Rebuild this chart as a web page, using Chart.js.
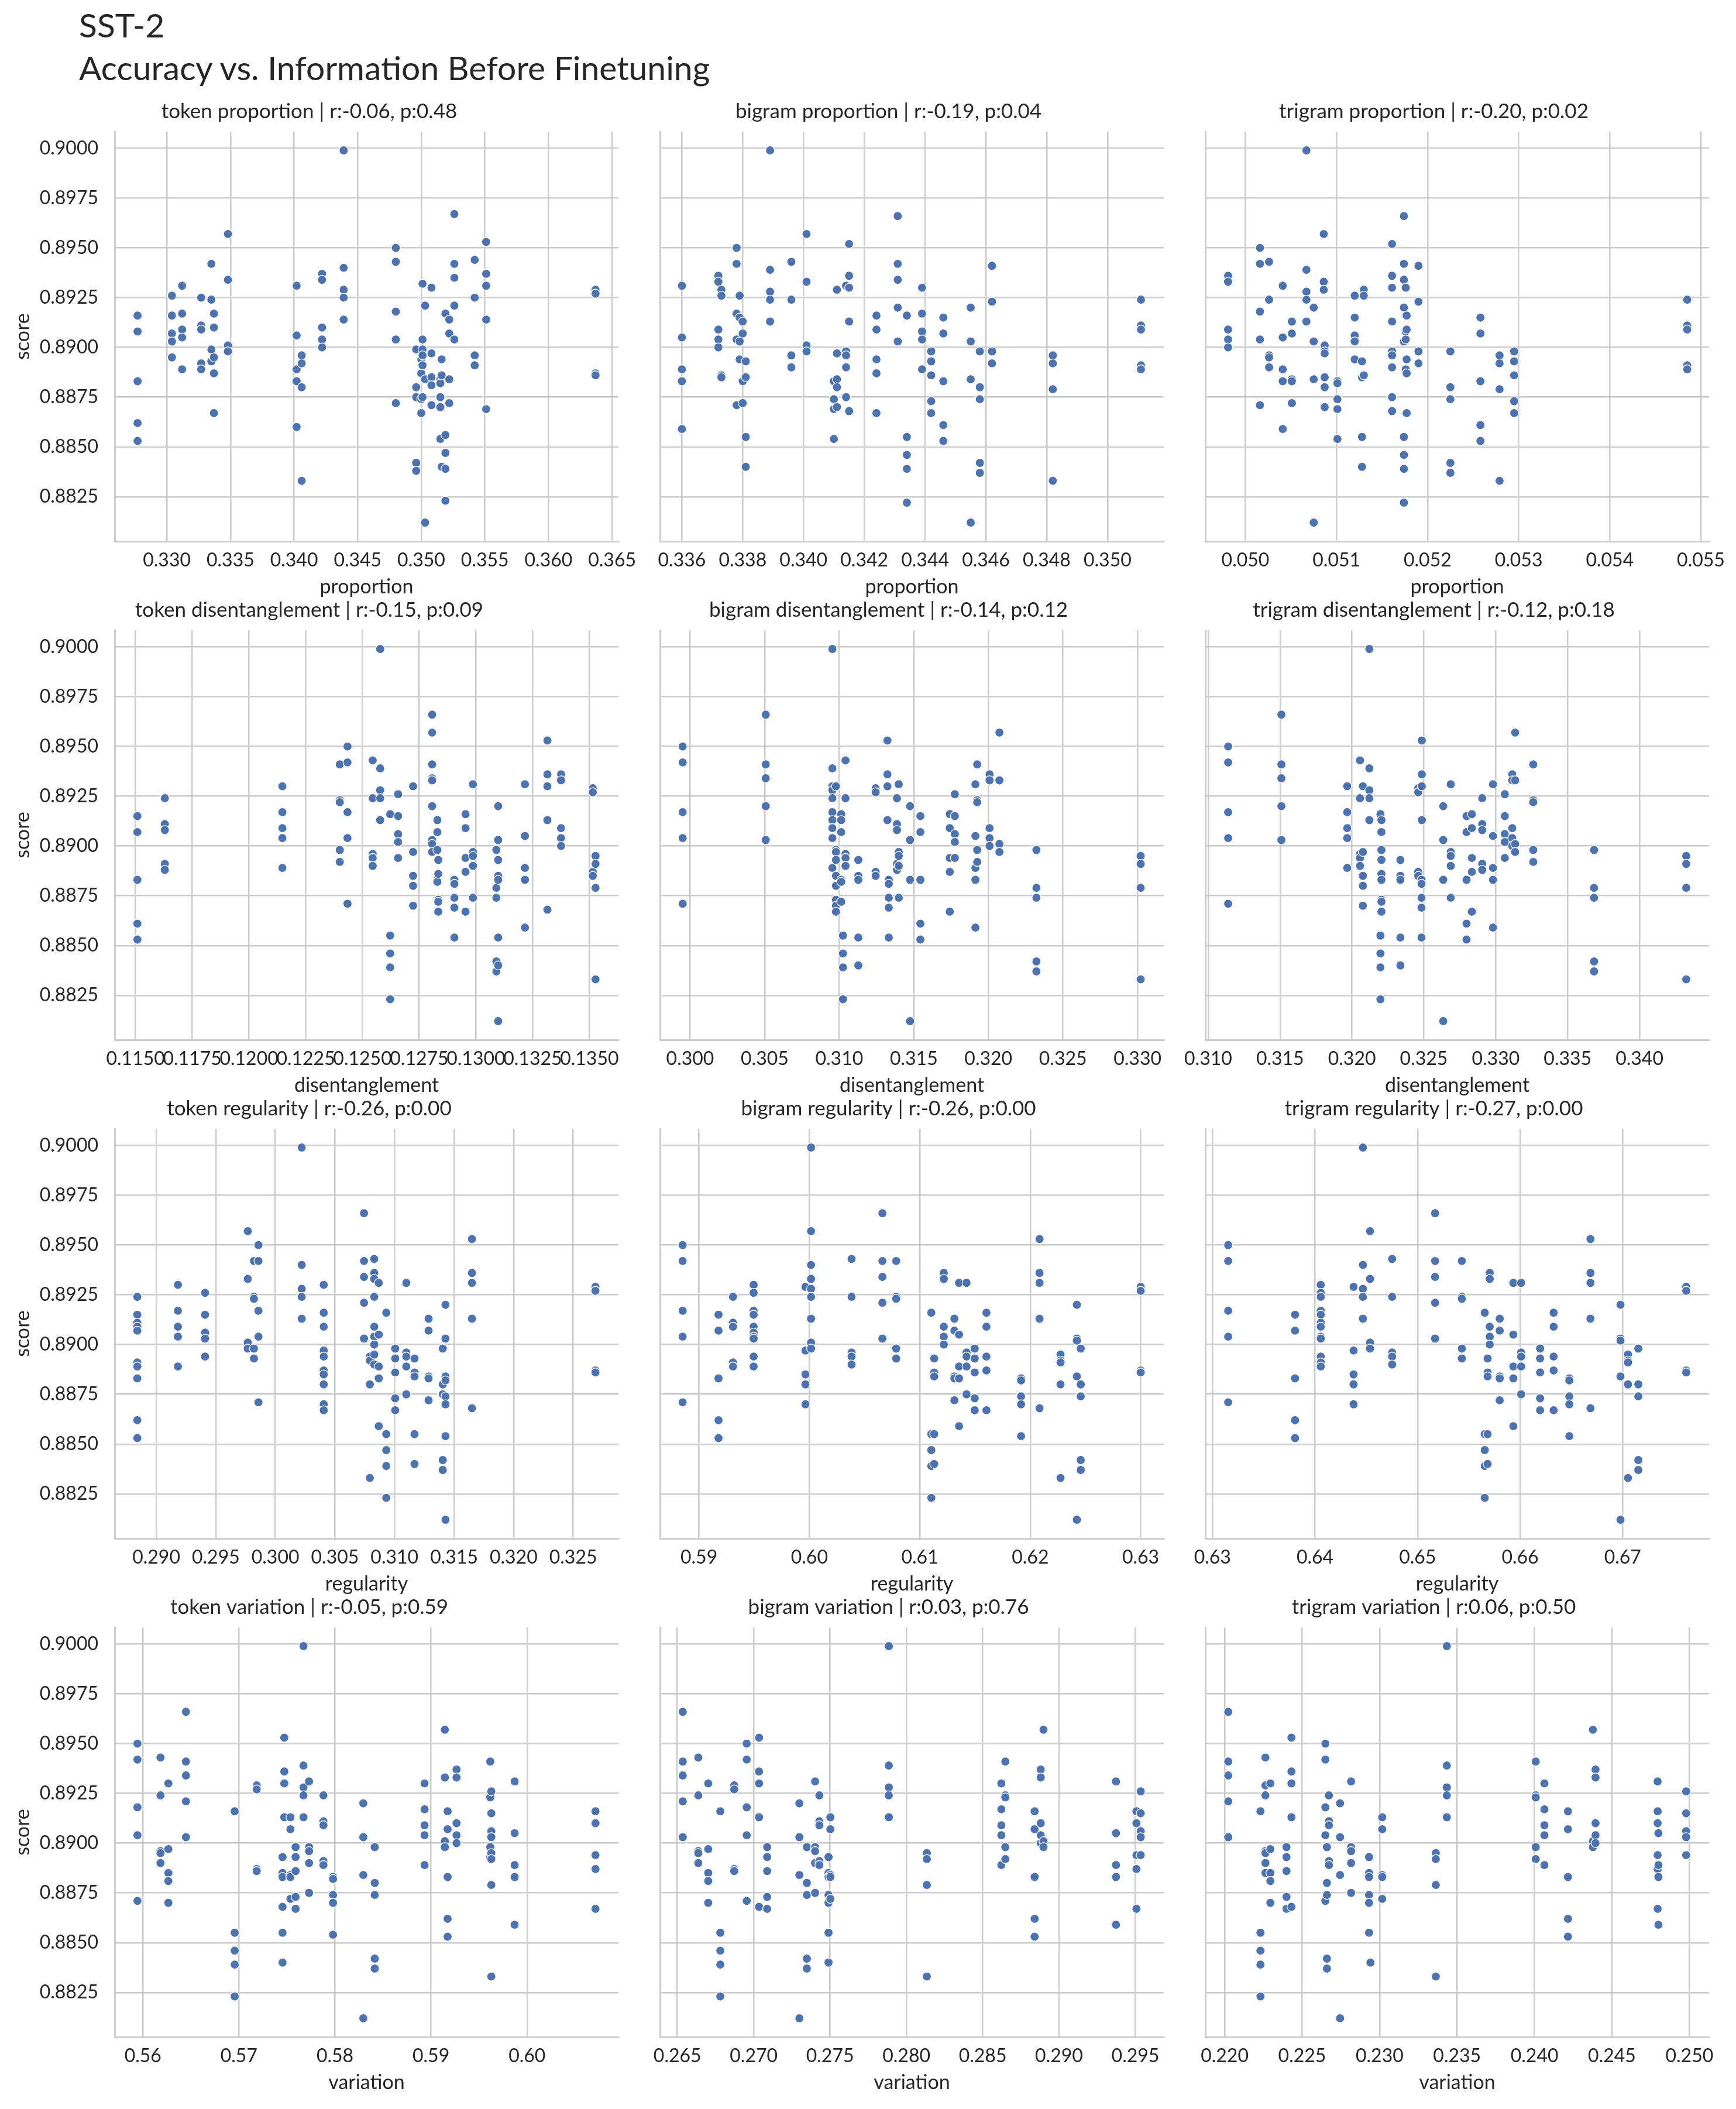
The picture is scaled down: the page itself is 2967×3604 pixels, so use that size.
<!DOCTYPE html>
<html>
<head>
<meta charset="utf-8">
<script src="https://cdn.jsdelivr.net/npm/chart.js@4.4.1/dist/chart.umd.min.js"></script>
<style>
  html, body { margin: 0; padding: 0; background: #fff; }
  body { width: 2967px; height: 3604px; position: relative; overflow: hidden;
         font-family: Lato, 'Noto Sans', sans-serif; color: #262626; }
  #suptitle { position: absolute; left: 135px; top: 6px; font-size: 57px; line-height: 73px; white-space: nowrap; }
  canvas { position: absolute; }
</style>
</head>
<body>
<div id="suptitle">SST-2<br>Accuracy vs. Information Before Finetuning</div>
<script>
// each entry: [x value, [scores at that x]]
const tokenProportion = [
  [0.3277, [0.8916,0.8908,0.8883,0.8862,0.8853]],
  [0.3304, [0.8926,0.8916,0.8907,0.8903,0.8895]],
  [0.3312, [0.8931,0.8917,0.8909,0.8905,0.8889]],
  [0.3327, [0.8925,0.8911,0.8909,0.8892,0.8889]],
  [0.3335, [0.8942,0.8924,0.8899,0.8893]],
  [0.3337, [0.8917,0.8910,0.8895,0.8887,0.8867]],
  [0.3348, [0.8957,0.8934,0.8901,0.8898]],
  [0.3402, [0.8931,0.8906,0.8889,0.8883,0.8860]],
  [0.3406, [0.8896,0.8892,0.8880,0.8833]],
  [0.3422, [0.8937,0.8934,0.8910,0.8904,0.8900]],
  [0.3439, [0.8999,0.8940,0.8929,0.8925,0.8914]],
  [0.3480, [0.8950,0.8943,0.8918,0.8904,0.8872]],
  [0.3496, [0.8899,0.8880,0.8875,0.8842,0.8838]],
  [0.3500, [0.8894,0.8887,0.8874,0.8867]],
  [0.3501, [0.8932,0.8904,0.8899,0.8896,0.8891,0.8875]],
  [0.3503, [0.8921,0.8884,0.8812]],
  [0.3508, [0.8930,0.8897,0.8885,0.8881,0.8871]],
  [0.3515, [0.8884,0.8882,0.8875,0.8870,0.8854]],
  [0.3516, [0.8894,0.8886,0.8840]],
  [0.3519, [0.8917,0.8856,0.8847,0.8839,0.8823]],
  [0.3522, [0.8914,0.8907,0.8884,0.8872]],
  [0.3526, [0.8967,0.8942,0.8935,0.8921,0.8904]],
  [0.3542, [0.8944,0.8925,0.8896,0.8891]],
  [0.3551, [0.8953,0.8937,0.8931,0.8914,0.8869]],
  [0.3637, [0.8929,0.8927,0.8887,0.8886]]
];
const bigramProportion = [
  [0.3360, [0.8931,0.8905,0.8889,0.8883,0.8859]],
  [0.3372, [0.8936,0.8933,0.8909,0.8904,0.8900]],
  [0.3373, [0.8929,0.8926,0.8886,0.8885]],
  [0.3378, [0.8950,0.8942,0.8917,0.8904,0.8871]],
  [0.3379, [0.8926,0.8915,0.8903,0.8894]],
  [0.3380, [0.8913,0.8907,0.8883,0.8872]],
  [0.3381, [0.8893,0.8885,0.8855,0.8840]],
  [0.3389, [0.8999,0.8939,0.8928,0.8924,0.8913]],
  [0.3396, [0.8943,0.8924,0.8896,0.8890]],
  [0.3401, [0.8957,0.8933,0.8901,0.8898]],
  [0.3410, [0.8883,0.8874,0.8869,0.8854]],
  [0.3411, [0.8929,0.8897,0.8884,0.8880,0.8870]],
  [0.3414, [0.8931,0.8898,0.8896,0.8890,0.8875]],
  [0.3415, [0.8952,0.8936,0.8930,0.8913,0.8868]],
  [0.3424, [0.8916,0.8909,0.8894,0.8887,0.8867]],
  [0.3431, [0.8966,0.8942,0.8934,0.8920,0.8903]],
  [0.3434, [0.8916,0.8855,0.8846,0.8839,0.8822]],
  [0.3439, [0.8930,0.8917,0.8908,0.8904,0.8889]],
  [0.3442, [0.8898,0.8893,0.8886,0.8873,0.8867]],
  [0.3446, [0.8915,0.8907,0.8883,0.8861,0.8853]],
  [0.3455, [0.8920,0.8903,0.8884,0.8812]],
  [0.3458, [0.8898,0.8880,0.8874,0.8842,0.8837]],
  [0.3462, [0.8941,0.8923,0.8898,0.8892]],
  [0.3482, [0.8896,0.8892,0.8879,0.8833]],
  [0.3511, [0.8924,0.8911,0.8909,0.8891,0.8889]]
];
const trigramProportion = [
  [0.04981, [0.8936,0.8933,0.8909,0.8904,0.8900]],
  [0.05016, [0.8950,0.8942,0.8918,0.8904,0.8871]],
  [0.05026, [0.8943,0.8924,0.8896,0.8895,0.8890]],
  [0.05041, [0.8931,0.8905,0.8889,0.8883,0.8859]],
  [0.05051, [0.8913,0.8907,0.8884,0.8883,0.8872]],
  [0.05067, [0.8999,0.8939,0.8928,0.8924,0.8913]],
  [0.05075, [0.8920,0.8903,0.8884,0.8812]],
  [0.05086, [0.8957,0.8933,0.8929]],
  [0.05087, [0.8901,0.8898,0.8897,0.8885,0.8880,0.8870]],
  [0.05101, [0.8883,0.8882,0.8874,0.8869,0.8854]],
  [0.05120, [0.8926,0.8915,0.8906,0.8903,0.8894]],
  [0.05128, [0.8893,0.8885,0.8855,0.8840]],
  [0.05130, [0.8929,0.8926,0.8886]],
  [0.05161, [0.8952,0.8936,0.8930,0.8913,0.8898,0.8896,0.8890,0.8875,0.8868]],
  [0.05174, [0.8966,0.8942,0.8934,0.8920,0.8903,0.8855,0.8846,0.8839,0.8822]],
  [0.05176, [0.8930,0.8916,0.8908,0.8904,0.8889]],
  [0.05177, [0.8916,0.8909,0.8894,0.8887,0.8867]],
  [0.05190, [0.8941,0.8923,0.8898,0.8892]],
  [0.05225, [0.8898,0.8880,0.8874,0.8842,0.8837]],
  [0.05258, [0.8915,0.8907,0.8883,0.8861,0.8853]],
  [0.05279, [0.8896,0.8892,0.8879,0.8833]],
  [0.05295, [0.8898,0.8893,0.8886,0.8873,0.8867]],
  [0.05485, [0.8924,0.8911,0.8909,0.8891,0.8889]]
];
const tokenDisentanglement = [
  [0.11508, [0.8915,0.8907,0.8883,0.8861,0.8853]],
  [0.11629, [0.8924,0.8911,0.8908,0.8891,0.8888]],
  [0.12147, [0.8930,0.8917,0.8909,0.8904,0.8889]],
  [0.12400, [0.8941,0.8923,0.8922,0.8898,0.8892]],
  [0.12434, [0.8950,0.8942,0.8917,0.8904,0.8871]],
  [0.12545, [0.8943,0.8924,0.8896,0.8894,0.8890]],
  [0.12578, [0.8999,0.8939,0.8928,0.8924,0.8913]],
  [0.12622, [0.8916,0.8855,0.8846,0.8839,0.8823]],
  [0.12657, [0.8926,0.8915,0.8906,0.8902,0.8894]],
  [0.12723, [0.8930,0.8897,0.8885,0.8880,0.8870]],
  [0.12807, [0.8966,0.8957,0.8941,0.8934,0.8933,0.8920,0.8903,0.8901,0.8897]],
  [0.12830, [0.8913,0.8907,0.8898,0.8883,0.8882]],
  [0.12834, [0.8893,0.8886,0.8873,0.8872,0.8867]],
  [0.12905, [0.8883,0.8881,0.8874,0.8869,0.8854]],
  [0.12954, [0.8916,0.8909,0.8894,0.8887,0.8867]],
  [0.12987, [0.8931,0.8897,0.8895,0.8890,0.8874]],
  [0.13090, [0.8898,0.8879,0.8874,0.8842,0.8837]],
  [0.13098, [0.8920,0.8903,0.8893,0.8885,0.8883,0.8854,0.8840,0.8812]],
  [0.13216, [0.8931,0.8905,0.8889,0.8883,0.8859]],
  [0.13315, [0.8953,0.8936,0.8930,0.8913,0.8868]],
  [0.13375, [0.8936,0.8933,0.8909,0.8904,0.8900]],
  [0.13515, [0.8929,0.8927,0.8887,0.8885]],
  [0.13527, [0.8895,0.8891,0.8879,0.8833]]
];
const bigramDisentanglement = [
  [0.29950, [0.8950,0.8942,0.8917,0.8904,0.8871]],
  [0.30507, [0.8966,0.8941,0.8934,0.8920,0.8903]],
  [0.30954, [0.8999,0.8939,0.8930,0.8928,0.8924,0.8917,0.8913,0.8909,0.8904,0.8889]],
  [0.30978, [0.8930,0.8898,0.8897,0.8893,0.8885,0.8880,0.8873,0.8870,0.8867]],
  [0.31013, [0.8916,0.8913,0.8907,0.8883,0.8882,0.8872]],
  [0.31025, [0.8855,0.8846,0.8839,0.8823]],
  [0.31042, [0.8943,0.8924,0.8896,0.8894,0.8890]],
  [0.31128, [0.8893,0.8885,0.8883,0.8854,0.8840]],
  [0.31244, [0.8929,0.8927,0.8887,0.8885]],
  [0.31323, [0.8953,0.8936,0.8930,0.8913]],
  [0.31332, [0.8883,0.8881,0.8874,0.8869,0.8854]],
  [0.31387, [0.8924,0.8911,0.8908,0.8891,0.8888]],
  [0.31399, [0.8931,0.8897,0.8895,0.8890,0.8874]],
  [0.31475, [0.8920,0.8903,0.8883,0.8812]],
  [0.31544, [0.8915,0.8907,0.8883,0.8861,0.8853]],
  [0.31741, [0.8916,0.8909,0.8894,0.8887,0.8867]],
  [0.31775, [0.8926,0.8915,0.8906,0.8902,0.8894]],
  [0.31913, [0.8931,0.8905,0.8889,0.8883,0.8859]],
  [0.31925, [0.8941,0.8923,0.8922,0.8898,0.8892]],
  [0.32008, [0.8936,0.8933,0.8909,0.8904,0.8900]],
  [0.32074, [0.8957,0.8933,0.8901,0.8897]],
  [0.32322, [0.8898,0.8879,0.8874,0.8842,0.8837]],
  [0.33021, [0.8895,0.8891,0.8879,0.8833]]
];
const trigramDisentanglement = [
  [0.31139, [0.8950,0.8942,0.8917,0.8904,0.8871]],
  [0.31509, [0.8966,0.8941,0.8934,0.8920,0.8903]],
  [0.31967, [0.8930,0.8917,0.8909,0.8904,0.8889]],
  [0.32056, [0.8943,0.8924,0.8896,0.8894,0.8890]],
  [0.32076, [0.8930,0.8897,0.8885,0.8880,0.8870]],
  [0.32121, [0.8999,0.8939,0.8928,0.8924,0.8913]],
  [0.32198, [0.8916,0.8855,0.8846,0.8839,0.8823]],
  [0.32205, [0.8913,0.8907,0.8898,0.8893,0.8886,0.8883,0.8873,0.8872,0.8867]],
  [0.32337, [0.8893,0.8885,0.8883,0.8854,0.8840]],
  [0.32461, [0.8929,0.8927,0.8887,0.8885]],
  [0.32486, [0.8953,0.8936,0.8930,0.8913]],
  [0.32484, [0.8883,0.8881,0.8874,0.8869,0.8854]],
  [0.32635, [0.8920,0.8903,0.8883,0.8812]],
  [0.32687, [0.8931,0.8897,0.8895,0.8890,0.8874]],
  [0.32797, [0.8915,0.8907,0.8883,0.8861,0.8853]],
  [0.32834, [0.8916,0.8909,0.8894,0.8887,0.8867]],
  [0.32906, [0.8924,0.8911,0.8908,0.8891,0.8888]],
  [0.32981, [0.8931,0.8905,0.8889,0.8883,0.8859]],
  [0.33063, [0.8926,0.8915,0.8906,0.8902,0.8894]],
  [0.33115, [0.8936,0.8933,0.8909,0.8904,0.8900]],
  [0.33135, [0.8957,0.8933,0.8901,0.8897]],
  [0.33261, [0.8941,0.8923,0.8922,0.8898,0.8892]],
  [0.33684, [0.8898,0.8879,0.8874,0.8842,0.8837]],
  [0.34325, [0.8895,0.8891,0.8879,0.8833]]
];
const tokenRegularity = [
  [0.28841, [0.8924,0.8915,0.8911,0.8909,0.8907,0.8891,0.8889,0.8883,0.8862,0.8853]],
  [0.29182, [0.8930,0.8917,0.8909,0.8904,0.8889]],
  [0.29410, [0.8926,0.8915,0.8906,0.8903,0.8894]],
  [0.29768, [0.8957,0.8933,0.8901,0.8898]],
  [0.29820, [0.8942,0.8924,0.8923,0.8898,0.8893]],
  [0.29858, [0.8950,0.8942,0.8917,0.8904,0.8871]],
  [0.30221, [0.8999,0.8940,0.8928,0.8924,0.8913]],
  [0.30406, [0.8930,0.8916,0.8909,0.8897,0.8894,0.8887,0.8885,0.8880,0.8870,0.8867]],
  [0.30744, [0.8966,0.8942,0.8934,0.8921,0.8903]],
  [0.30793, [0.8894,0.8892,0.8880,0.8833]],
  [0.30830, [0.8943,0.8936,0.8933,0.8924,0.8909,0.8904,0.8900,0.8895,0.8890]],
  [0.30868, [0.8931,0.8905,0.8889,0.8883,0.8859]],
  [0.30931, [0.8916,0.8855,0.8847,0.8839,0.8823]],
  [0.31006, [0.8898,0.8893,0.8886,0.8873,0.8867]],
  [0.31099, [0.8931,0.8896,0.8894,0.8889,0.8875]],
  [0.31168, [0.8893,0.8886,0.8884,0.8855,0.8840]],
  [0.31286, [0.8913,0.8907,0.8884,0.8883,0.8872]],
  [0.31405, [0.8898,0.8880,0.8875,0.8842,0.8837]],
  [0.31428, [0.8920,0.8903,0.8884,0.8882,0.8874,0.8870,0.8854,0.8812]],
  [0.31650, [0.8953,0.8936,0.8931,0.8913,0.8868]],
  [0.32687, [0.8929,0.8927,0.8887,0.8886]]
];
const bigramRegularity = [
  [0.58852, [0.8950,0.8942,0.8917,0.8904,0.8871]],
  [0.59177, [0.8915,0.8907,0.8883,0.8862,0.8853]],
  [0.59308, [0.8924,0.8911,0.8909,0.8891,0.8889]],
  [0.59495, [0.8930,0.8926,0.8917,0.8915,0.8909,0.8906,0.8904,0.8903,0.8894,0.8889]],
  [0.59964, [0.8929,0.8897,0.8885,0.8880,0.8870]],
  [0.60015, [0.8999,0.8957,0.8940,0.8933,0.8928,0.8924,0.8913,0.8901,0.8898]],
  [0.60382, [0.8943,0.8924,0.8896,0.8894,0.8890]],
  [0.60661, [0.8966,0.8942,0.8934,0.8921,0.8903]],
  [0.60786, [0.8942,0.8924,0.8923,0.8898,0.8893]],
  [0.61104, [0.8916,0.8855,0.8847,0.8839,0.8823]],
  [0.61130, [0.8893,0.8886,0.8884,0.8855,0.8840]],
  [0.61217, [0.8936,0.8933,0.8909,0.8904,0.8900]],
  [0.61313, [0.8913,0.8907,0.8884,0.8883,0.8872]],
  [0.61355, [0.8931,0.8905,0.8889,0.8883,0.8859]],
  [0.61423, [0.8931,0.8896,0.8894,0.8889,0.8875]],
  [0.61497, [0.8898,0.8893,0.8886,0.8873,0.8867]],
  [0.61603, [0.8916,0.8909,0.8894,0.8887,0.8867]],
  [0.61917, [0.8883,0.8882,0.8874,0.8870,0.8854]],
  [0.62084, [0.8953,0.8936,0.8931,0.8913,0.8868]],
  [0.62274, [0.8895,0.8892,0.8891,0.8880,0.8833]],
  [0.62422, [0.8920,0.8903,0.8902,0.8884,0.8812]],
  [0.62457, [0.8898,0.8880,0.8874,0.8842,0.8837]],
  [0.63000, [0.8929,0.8927,0.8887,0.8886]]
];
const trigramRegularity = [
  [0.63153, [0.8950,0.8942,0.8917,0.8904,0.8871]],
  [0.63805, [0.8915,0.8907,0.8883,0.8862,0.8853]],
  [0.64056, [0.8930,0.8926,0.8924,0.8917,0.8915,0.8911,0.8909,0.8904,0.8903,0.8894,0.8891,0.8889]],
  [0.64376, [0.8929,0.8897,0.8885,0.8880,0.8870]],
  [0.64467, [0.8999,0.8940,0.8928,0.8924,0.8913]],
  [0.64536, [0.8957,0.8933,0.8901,0.8898]],
  [0.64752, [0.8943,0.8924,0.8896,0.8894,0.8890]],
  [0.65171, [0.8966,0.8942,0.8934,0.8921,0.8903]],
  [0.65432, [0.8942,0.8924,0.8923,0.8898,0.8893]],
  [0.65655, [0.8916,0.8855,0.8847,0.8839,0.8823]],
  [0.65683, [0.8893,0.8886,0.8884,0.8855,0.8840]],
  [0.65704, [0.8936,0.8933,0.8909,0.8904,0.8900]],
  [0.65801, [0.8913,0.8907,0.8884,0.8883,0.8872]],
  [0.65934, [0.8931,0.8905,0.8889,0.8883,0.8859]],
  [0.66010, [0.8931,0.8896,0.8894,0.8889,0.8875]],
  [0.66195, [0.8898,0.8893,0.8886,0.8873,0.8867]],
  [0.66327, [0.8916,0.8909,0.8894,0.8887,0.8867]],
  [0.66480, [0.8883,0.8882,0.8874,0.8870,0.8854]],
  [0.66686, [0.8953,0.8936,0.8931,0.8913,0.8868]],
  [0.66979, [0.8920,0.8903,0.8902,0.8884,0.8812]],
  [0.67052, [0.8895,0.8892,0.8891,0.8880,0.8833]],
  [0.67153, [0.8898,0.8880,0.8874,0.8842,0.8837]],
  [0.67620, [0.8929,0.8927,0.8887,0.8886]]
];
const tokenVariation = [
  [0.55943, [0.8950,0.8942,0.8918,0.8904,0.8871]],
  [0.56183, [0.8943,0.8924,0.8896,0.8895,0.8890]],
  [0.56265, [0.8930,0.8897,0.8885,0.8881,0.8870]],
  [0.56448, [0.8966,0.8941,0.8934,0.8921,0.8903]],
  [0.56956, [0.8916,0.8855,0.8846,0.8839,0.8823]],
  [0.57185, [0.8929,0.8927,0.8887,0.8886]],
  [0.57454, [0.8893,0.8885,0.8883,0.8868,0.8855,0.8840]],
  [0.57472, [0.8953,0.8936,0.8930,0.8913]],
  [0.57536, [0.8913,0.8907,0.8884,0.8883,0.8872]],
  [0.57590, [0.8898,0.8893,0.8886,0.8873,0.8867]],
  [0.57672, [0.8999,0.8939,0.8928,0.8924,0.8913]],
  [0.57730, [0.8931,0.8898,0.8896,0.8890,0.8875]],
  [0.57880, [0.8924,0.8911,0.8909,0.8891,0.8889]],
  [0.57980, [0.8883,0.8882,0.8874,0.8870,0.8854]],
  [0.58295, [0.8920,0.8903,0.8884,0.8812]],
  [0.58414, [0.8898,0.8880,0.8874,0.8842,0.8837]],
  [0.58933, [0.8930,0.8917,0.8909,0.8904,0.8889]],
  [0.59144, [0.8957,0.8933,0.8901,0.8898]],
  [0.59173, [0.8916,0.8907,0.8883,0.8862,0.8853]],
  [0.59266, [0.8937,0.8933,0.8910,0.8904,0.8900]],
  [0.59617, [0.8941,0.8924,0.8923,0.8898,0.8893]],
  [0.59628, [0.8926,0.8915,0.8906,0.8903,0.8895,0.8892,0.8879,0.8833]],
  [0.59871, [0.8931,0.8905,0.8889,0.8883,0.8859]],
  [0.60713, [0.8916,0.8910,0.8894,0.8887,0.8867]]
];
const bigramVariation = [
  [0.26535, [0.8966,0.8941,0.8934,0.8921,0.8903]],
  [0.26637, [0.8943,0.8924,0.8896,0.8895,0.8890]],
  [0.26702, [0.8930,0.8897,0.8885,0.8881,0.8870]],
  [0.26781, [0.8916,0.8855,0.8846,0.8839,0.8823]],
  [0.26872, [0.8929,0.8927,0.8887,0.8886]],
  [0.26954, [0.8950,0.8942,0.8918,0.8904,0.8871]],
  [0.27035, [0.8953,0.8936,0.8930,0.8913,0.8868]],
  [0.27088, [0.8898,0.8893,0.8886,0.8873,0.8867]],
  [0.27299, [0.8920,0.8903,0.8884,0.8812]],
  [0.27348, [0.8898,0.8880,0.8874,0.8842,0.8837]],
  [0.27402, [0.8931,0.8898,0.8896,0.8890,0.8875]],
  [0.27430, [0.8924,0.8911,0.8909,0.8891,0.8889]],
  [0.27490, [0.8893,0.8885,0.8883,0.8874,0.8870,0.8855,0.8840]],
  [0.27502, [0.8913,0.8907,0.8884,0.8883,0.8872]],
  [0.27885, [0.8999,0.8939,0.8928,0.8924,0.8913]],
  [0.28134, [0.8895,0.8892,0.8879,0.8833]],
  [0.28622, [0.8930,0.8917,0.8909,0.8904,0.8889]],
  [0.28648, [0.8941,0.8924,0.8923,0.8898,0.8892]],
  [0.28840, [0.8916,0.8907,0.8883,0.8862,0.8853]],
  [0.28880, [0.8937,0.8933,0.8910,0.8904,0.8900]],
  [0.28898, [0.8957,0.8901,0.8898]],
  [0.29373, [0.8931,0.8905,0.8889,0.8883,0.8859]],
  [0.29507, [0.8916,0.8910,0.8894,0.8887,0.8867]],
  [0.29535, [0.8926,0.8915,0.8906,0.8903,0.8894]]
];
const trigramVariation = [
  [0.22023, [0.8966,0.8941,0.8934,0.8921,0.8903]],
  [0.22231, [0.8916,0.8855,0.8846,0.8839,0.8823]],
  [0.22263, [0.8943,0.8929,0.8924,0.8896,0.8895,0.8890,0.8885]],
  [0.22295, [0.8930,0.8897,0.8885,0.8881,0.8870]],
  [0.22399, [0.8898,0.8893,0.8886,0.8873,0.8867]],
  [0.22431, [0.8953,0.8936,0.8930,0.8913,0.8868]],
  [0.22650, [0.8950,0.8942,0.8918,0.8904,0.8871]],
  [0.22660, [0.8898,0.8880,0.8874,0.8842,0.8837]],
  [0.22673, [0.8924,0.8911,0.8909,0.8891,0.8889]],
  [0.22745, [0.8920,0.8903,0.8884,0.8812]],
  [0.22816, [0.8931,0.8898,0.8896,0.8890,0.8875]],
  [0.22932, [0.8893,0.8885,0.8883,0.8874,0.8870,0.8855]],
  [0.22941, [0.8840]],
  [0.23017, [0.8913,0.8907,0.8884,0.8883,0.8872]],
  [0.23363, [0.8895,0.8892,0.8879,0.8833]],
  [0.23434, [0.8999,0.8939,0.8928,0.8924,0.8913]],
  [0.24008, [0.8941,0.8924,0.8923,0.8898,0.8892]],
  [0.24064, [0.8930,0.8917,0.8909,0.8904,0.8889]],
  [0.24216, [0.8916,0.8907,0.8883,0.8862,0.8853]],
  [0.24377, [0.8957,0.8901,0.8898]],
  [0.24394, [0.8937,0.8933,0.8910,0.8904,0.8900]],
  [0.24795, [0.8931,0.8916,0.8910,0.8894,0.8887,0.8867]],
  [0.24800, [0.8905,0.8889,0.8883,0.8859]],
  [0.24979, [0.8926,0.8915,0.8906,0.8903,0.8894]]
];

// tick labels
const scoreTicks = ['0.8825','0.8850','0.8875','0.8900','0.8925','0.8950','0.8975','0.9000'];
const tokenProportionTicks = ['0.330','0.335','0.340','0.345','0.350','0.355','0.360','0.365'];
const bigramProportionTicks = ['0.336','0.338','0.340','0.342','0.344','0.346','0.348','0.350'];
const trigramProportionTicks = ['0.050','0.051','0.052','0.053','0.054','0.055'];
const tokenDisentanglementTicks = ['0.1150','0.1175','0.1200','0.1225','0.1250','0.1275','0.1300','0.1325','0.1350'];
const bigramDisentanglementTicks = ['0.300','0.305','0.310','0.315','0.320','0.325','0.330'];
const trigramDisentanglementTicks = ['0.310','0.315','0.320','0.325','0.330','0.335','0.340'];
const tokenRegularityTicks = ['0.290','0.295','0.300','0.305','0.310','0.315','0.320','0.325'];
const bigramRegularityTicks = ['0.59','0.60','0.61','0.62','0.63'];
const trigramRegularityTicks = ['0.63','0.64','0.65','0.66','0.67'];
const tokenVariationTicks = ['0.56','0.57','0.58','0.59','0.60'];
const bigramVariationTicks = ['0.265','0.270','0.275','0.280','0.285','0.290','0.295'];
const trigramVariationTicks = ['0.220','0.225','0.230','0.235','0.240','0.245','0.250'];

// correlation stats shown in panel titles
const corrR = ['-0.06','-0.19','-0.20','-0.15','-0.14','-0.12','-0.26','-0.26','-0.27','-0.05','0.03','0.06'];
const corrP = ['0.48','0.04','0.02','0.09','0.12','0.18','0.00','0.00','0.00','0.59','0.76','0.50'];

const panels = [
  {name: 'token proportion', data: tokenProportion, ticks: tokenProportionTicks, xlabel: 'proportion', min: 0.3259, max: 0.3655},
  {name: 'bigram proportion', data: bigramProportion, ticks: bigramProportionTicks, xlabel: 'proportion', min: 0.33528, max: 0.35185},
  {name: 'trigram proportion', data: trigramProportion, ticks: trigramProportionTicks, xlabel: 'proportion', min: 0.04956, max: 0.05509},
  {name: 'token disentanglement', data: tokenDisentanglement, ticks: tokenDisentanglementTicks, xlabel: 'disentanglement', min: 0.11408, max: 0.13628},
  {name: 'bigram disentanglement', data: bigramDisentanglement, ticks: bigramDisentanglementTicks, xlabel: 'disentanglement', min: 0.29798, max: 0.33176},
  {name: 'trigram disentanglement', data: trigramDisentanglement, ticks: trigramDisentanglementTicks, xlabel: 'disentanglement', min: 0.30980, max: 0.34484},
  {name: 'token regularity', data: tokenRegularity, ticks: tokenRegularityTicks, xlabel: 'regularity', min: 0.28651, max: 0.32880},
  {name: 'bigram regularity', data: bigramRegularity, ticks: bigramRegularityTicks, xlabel: 'regularity', min: 0.58647, max: 0.63209},
  {name: 'trigram regularity', data: trigramRegularity, ticks: trigramRegularityTicks, xlabel: 'regularity', min: 0.62930, max: 0.67843},
  {name: 'token variation', data: tokenVariation, ticks: tokenVariationTicks, xlabel: 'variation', min: 0.55706, max: 0.60952},
  {name: 'bigram variation', data: bigramVariation, ticks: bigramVariationTicks, xlabel: 'variation', min: 0.26386, max: 0.29686},
  {name: 'trigram variation', data: trigramVariation, ticks: trigramVariationTicks, xlabel: 'variation', min: 0.21875, max: 0.25127}
];

const FONT = "Lato, 'Noto Sans', sans-serif";
const TEXT = '#262626';
const GRID = '#cccccc';
const colLeft = [196, 1128, 2060];
const rowTop = [225, 1077, 1929, 2781];
const plotW = 861, plotH = 700;
const titleH = 65;   // 10 + 35*1.2 + 13
const xH = 98;
const rightPad = 60;

Chart.defaults.font.family = FONT;
Chart.defaults.color = TEXT;

function draw() {
  panels.forEach((p, i) => {
    const r = Math.floor(i / 3), c = i % 3;
    const yW = c === 0 ? 196 : 80;
    const cv = document.createElement('canvas');
    cv.width = yW + plotW + rightPad;
    cv.height = titleH + plotH + xH;
    cv.style.left = (colLeft[c] - yW) + 'px';
    cv.style.top = (rowTop[r] - titleH) + 'px';
    document.body.appendChild(cv);

    const points = p.data.flatMap(([x, ys]) => ys.map(y => ({x: x, y: y})));
    const xVals = p.ticks.map(Number);
    const yVals = scoreTicks.map(Number);

    new Chart(cv, {
      type: 'scatter',
      data: {
        datasets: [{
          data: points,
          pointRadius: 7.6,
          pointHoverRadius: 7.6,
          backgroundColor: '#4c72b0',
          borderColor: '#ffffff',
          borderWidth: 1.3
        }]
      },
      options: {
        responsive: false,
        animation: false,
        devicePixelRatio: 1,
        events: [],
        layout: {padding: {left: 0, right: rightPad, top: 0, bottom: 0}},
        plugins: {
          legend: {display: false},
          tooltip: {enabled: false},
          title: {
            display: true,
            text: p.name + ' | r:' + corrR[i] + ', p:' + corrP[i],
            font: {size: 35, weight: 'normal'},
            color: TEXT,
            padding: {top: 10, bottom: 13}
          }
        },
        scales: {
          x: {
            type: 'linear',
            min: p.min,
            max: p.max,
            afterBuildTicks: s => { s.ticks = xVals.map(v => ({value: v})); },
            afterFit: s => { s.height = xH; },
            grid: {color: GRID, lineWidth: 2.5, drawTicks: false},
            border: {color: GRID, width: 3},
            ticks: {
              autoSkip: false, maxRotation: 0, minRotation: 0, padding: 13,
              color: TEXT, font: {size: 32},
              callback: (v, idx) => p.ticks[idx]
            },
            title: {display: true, text: p.xlabel, color: TEXT, font: {size: 34}, padding: 0}
          },
          y: {
            type: 'linear',
            min: 0.88026,
            max: 0.90084,
            afterBuildTicks: s => { s.ticks = yVals.map(v => ({value: v})); },
            afterFit: s => { s.width = yW; },
            grid: {color: GRID, lineWidth: 2.5, drawTicks: false},
            border: {color: GRID, width: 3},
            ticks: {
              display: c === 0, autoSkip: false, padding: 28,
              color: TEXT, font: {size: 32},
              callback: (v, idx) => scoreTicks[idx]
            },
            title: {display: c === 0, text: 'score', color: TEXT, font: {size: 34}, padding: {top: 19, bottom: 0}}
          }
        }
      }
    });
  });
}

if (document.fonts && document.fonts.load) {
  document.fonts.load('33px Lato').then(draw, draw);
} else {
  draw();
}
</script>
</body>
</html>
